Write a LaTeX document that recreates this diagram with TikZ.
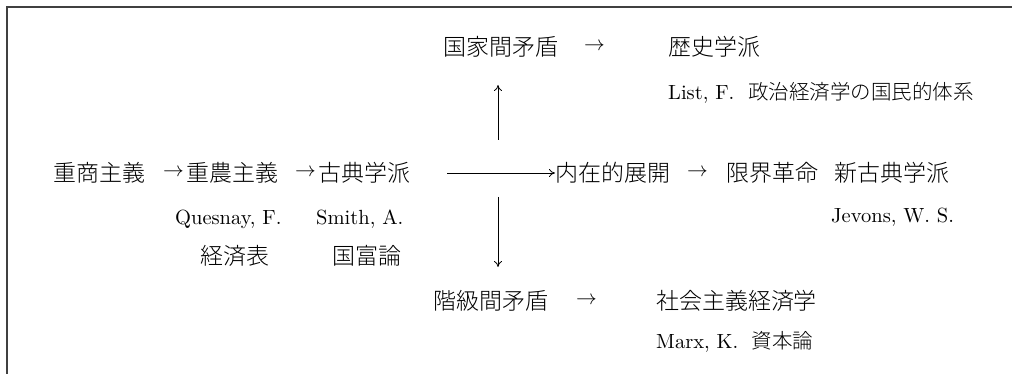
\documentclass[tikz,border=0pt]{standalone}
\usepackage{fontspec}
\setmainfont{lmroman10-regular}[Extension=.otf]
\newfontfamily\cjk{Noto Sans CJK JP Light}[Scale=1.12]
\newfontfamily\cjksmall{Noto Sans CJK JP Light}
\usetikzlibrary{arrows.meta}
\begin{document}
\begin{tikzpicture}[x=1pt,y=-1pt,
  every node/.style={inner sep=0pt, anchor=west, font=\fontsize{20.5}{24}\selectfont},
  jp/.style={font=\fontsize{20.5}{24}\selectfont\cjk},
  arr/.style={font=\fontsize{21.5}{24}\selectfont},
  conn/.style={-{To[length=6pt,width=8pt]}, line width=0.8pt},
  frame/.style={line width=1.6pt, black!75}]
\useasboundingbox (0,0) rectangle (1012,374);
\coordinate (fb) at (7,374);
\coordinate (fc) at (7,7);
\coordinate (fr) at (1012,7);
\draw[frame] (fb) -- (fc) -- (fr);
% main row
\node[jp] (mer) at (53,173) {重商主義};
\node[arr] (a1) at (163,173) {$\rightarrow$};
\node[jp] (phy) at (186,173) {重農主義};
\node[arr] (a2) at (295,173) {$\rightarrow$};
\node[jp] (cla) at (318,173) {古典学派};
\node (ques) at (175,219) {Quesnay, F.};
\node (smith) at (316,219) {Smith, A.};
\node[jp] (keizai) at (200,256) {経済表};
\node[jp] (kokufu) at (332,256) {国富論};
\coordinate (hs) at (447,173);
\node[jp] (nai) at (555,173) {内在的展開};
\draw[conn] (hs) -- (nai.west);
\node[arr] (a3) at (687,173) {$\rightarrow$};
\node[jp] (gen) at (726,173) {限界革命};
\node[jp] (neo) at (834,173) {新古典学派};
\node (jev) at (831,217) {Jevons, W. S.};
% top branch
\node[jp] (kokka) at (443,47) {国家間矛盾};
\node[arr] (a4) at (584,47) {$\rightarrow$};
\node[jp] (rek) at (668,47) {歴史学派};
\node (list) at (668,93) {List, F.\ \ {\cjksmall 政治経済学の国民的体系}};
\coordinate (us) at (498,140);
\coordinate (ue) at (498,85);
\draw[conn] (us) -- (ue);
% bottom branch
\coordinate (ds) at (498,197);
\coordinate (de) at (498,267);
\draw[conn] (ds) -- (de);
\node[jp] (kai) at (433,301) {階級間矛盾};
\node[arr] (a5) at (576,301) {$\rightarrow$};
\node[jp] (soc) at (656,301) {社会主義経済学};
\node (marx) at (656,342) {Marx, K.\ \ {\cjksmall 資本論}};
\end{tikzpicture}
\end{document}
